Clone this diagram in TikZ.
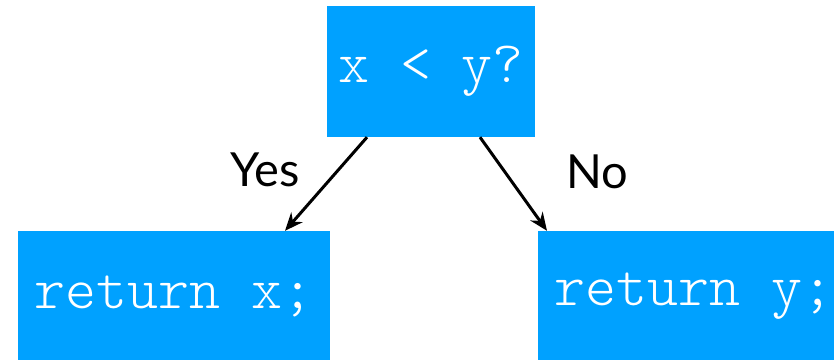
\documentclass[tikz,border=0pt]{standalone}
\usepackage{fontspec}
\newfontfamily\labelfont{Lato}
\newfontfamily\codefont{Latin Modern Mono Light}
\usetikzlibrary{arrows.meta}
\definecolor{boxblue}{RGB}{0,161,255}

\begin{document}
\begin{tikzpicture}[x=1pt, y=-1pt,
      box/.style={fill=boxblue, text=white, inner sep=0pt, minimum height=131pt,
        font=\fontsize{59}{66}\selectfont\codefont},
      arrow/.style={-{Stealth[length=18pt,width=15pt]}, line width=3pt},
      lbl/.style={inner sep=0pt, font=\fontsize{47}{56}\selectfont\labelfont}]
      \useasboundingbox (0,0) rectangle (834,359);
      \node (cond) [box, minimum width=208pt] at (431,71.5) {x < y?};
      \node (retx) [box, minimum width=312pt] at (174,296.5) {return x;};
      \node (rety) [box, minimum width=312pt] at (694,296.5) {return y;};
      \node (yes) [lbl] at (265,170) {Yes};
      \node (no) [lbl] at (597,172) {No};
      
      \draw[arrow] ([xshift=-64pt]cond.south) -- ([xshift=111pt]retx.north);
      \draw[arrow] ([xshift=49pt]cond.south) -- ([xshift=-147pt]rety.north);
    \end{tikzpicture}
\end{document}
